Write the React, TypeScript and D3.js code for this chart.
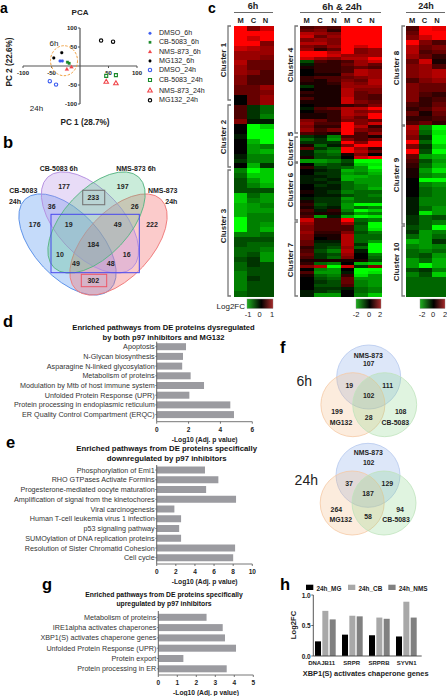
import React from "react";
import * as d3 from "d3";

const FONT = "'Liberation Sans', Arial, sans-serif";

// ---------- a: PCA
const pcaSeries = ["DMSO_6h", "CB-5083_6h", "NMS-873_6h", "MG132_6h", "DMSO_24h", "CB-5083_24h", "NMS-873_24h", "MG132_24h"];
const pcaColors = ["#3b5cf0", "#1a8a2a", "#f0454a", "#000000", "#3b5cf0", "#1a8a2a", "#f0454a", "#000000"];
const pcaShapes = ["circle", "square", "triangle", "circle", "circle", "square", "triangle", "circle"];
const pcaOpen = [false, false, false, false, true, true, true, true];
const pcaX = [[-35, -31], [-22, -19], [-23, -15], [-46, -32], [-53, -42], [46, 63], [46, 63], [37, 58]];
const pcaY = [[13, 13], [10, 7], [-9, -3], [21, 35], [-40, -49], [-26, -24], [-42, -46], [67, 64]];
const pcaTicks = [-100, -50, 50, 100];

// ---------- b: four-set venn
const vennLabels = ["177", "197", "233", "36", "26", "176", "19", "49", "222", "184", "10", "16", "49", "48", "302"];

// ---------- c: heatmaps (tenths of full colour range)
const heat6h = [
  [10, 5, 8], [10, 10, 10], [10, 8, 10], [10, 10, 5], [8, 7, 6], [6, 6, 6], [6, 6, 5], [7, 4, 4],
  [6, 4, 4], [6, 5, 3], [5, 3, 3], [5, 3, 3], [4, 4, 6], [4, 4, 5], [0, 4, 6], [0, 4, 6],
  [3, -2, -4], [3, -2, -4], [3, -2, -5], [5, -1, -1], [0, -10, -8], [0, -10, -10], [-1, -10, -10], [0, -7, -10],
  [0, -6, -5], [0, -6, -7], [-1, -5, -5], [-2, -5, -5], [0, -7, -2],
  [-5, -10, -8], [-4, -8, -8], [-3, -6, -8], [-3, -5, -7], [-3, -3, -3], [-8, -4, -6], [-8, -5, -6], [-7, -6, -5],
  [-7, -6, -6], [-7, -5, -5], [-10, -5, -5], [-10, -5, -6], [-10, -5, -7], [-5, -5, -4], [-3, -3, -3], [-3, -4, -4],
  [-4, -4, -5], [-4, -3, -6], [-3, -2, -6], [-4, -2, -3], [-4, -3, -3], [-5, -3, -3], [-5, -2, -3], [-5, -3, -3],
  [-5, -3, -3], [-4, -3, -3],
];
const heat6h24h = [
  [3, 4, 3, 10, 10, 10], [4, 5, 2, 10, 10, 10], [7, 6, 5, 10, 10, 10], [8, 4, 6, 10, 10, 10], [5, 6, 5, 10, 10, 10],
  [7, 7, 5, 10, 10, 10], [5, 4, 6, 10, 8, 10], [6, 2, 4, 10, 5, 6], [10, 10, 7, 10, 5, 6], [10, 10, 8, 6, 6, 6],
  [8, 6, 5, 7, 7, 10], [-3, 3, 2, 3, 6, 8], [-1, 2, 2, 4, 6, 4], [1, 2, 2, 3, 4, 3], [0, 2, 2, 3, 7, 6],
  [0, 1, 1, 5, 7, 6], [2, 3, 3, 4, 5, 6], [2, 1, 3, 5, 4, 7], [1, 1, 2, 6, 5, 7], [-2, 1, 1, 6, 6, 6],
  [0, 1, 1, 7, 5, 5], [2, 1, 1, 7, 4, 5], [1, 1, 1, 7, 4, 3], [3, 1, 1, 8, 4, 3], [1, 1, 1, 8, 5, 4],
  [0, 1, 1, 2, 3, 5], [-1, 3, 4, 7, 7, 10], [0, 2, 2, 7, 5, 6], [1, 1, 2, 7, 6, 10], [1, 1, 2, 6, 4, 10],
  [5, 4, 2, 5, 5, 4], [6, 3, 3, 10, 5, 8], [5, 2, 2, 10, 7, 2], [6, 3, 5, 10, 5, 4], [3, 2, 1, 10, 3, 6],
  [-2, -1, -5, 3, 3, 1], [-4, -2, -6, 5, 3, 5], [-2, -2, -2, 10, 5, 10], [1, -4, -1, 5, 10, 10], [4, -2, -4, 10, 6, 2],
  [-1, -4, -5, 10, 7, 4], [-1, -3, -4, 1, 5, 0], [1, -3, -3, 0, 8, 10],
  [-6, -6, -5, -3, -10, -10], [0, -4, -3, -2, -8, -9], [2, -2, -3, -4, -6, -10], [0, -1, -2, -7, -6, -8], [0, -2, -2, -6, -5, -7],
  [-1, -1, -2, -7, -7, -6], [-1, -2, -1, -7, -6, -6], [-1, -1, -2, -4, -6, -6], [0, -2, -1, -4, -5, -6], [0, -1, -1, -4, -5, -7],
  [1, -1, -2, -5, -4, -4], [0, -1, -1, -3, -4, -5], [-1, -2, -2, -6, -4, -4], [1, -2, -2, -5, -4, -4], [2, -3, -2, -6, -10, -10],
  [1, -2, -1, -6, -4, -5], [3, -1, 2, -5, -10, -8], [2, 1, 1, -3, -6, -5], [3, -6, -1, -7, -10, -9],
  [8, 3, 3, 10, -4, -5], [6, 3, 3, 6, -3, -10], [5, 3, 3, 3, -4, -10], [5, 3, 3, 3, -4, -9], [6, 2, 2, 5, -3, -5],
  [5, 1, 1, 7, -4, -4], [5, 0, 1, 7, -4, -4], [4, -1, -1, 7, -4, -6], [4, -2, -2, 7, -2, -10], [2, -2, -3, 6, -4, -10],
  [3, -3, -5, 7, -1, -10], [4, -2, -3, 6, 0, -5], [3, -2, -4, 5, 0, -4], [1, 1, 1, 1, 1, -3], [2, -4, -5, 0, -7, -8],
  [5, 7, -10, 8, -2, 5], [0, -5, -6, 0, -10, -10], [3, -6, -6, -1, -10, -9], [1, -4, -5, 2, -9, -6], [0, -3, -4, 4, -6, -6],
  [0, -2, -3, 4, -5, -6], [0, -3, -3, 3, -5, -6], [0, -2, -2, -1, -4, -5], [-1, -2, -3, 0, -4, -5], [-1, -6, -6, 0, -5, -8],
];
const heat24h = [
  [3, 10, 9], [4, 10, 10], [5, 8, 10], [10, 5, 3], [7, 4, 5], [7, 3, 4], [6, 4, 2], [4, 8, 1],
  [5, 6, 3], [5, 6, 7], [5, 6, 7], [3, 5, 6], [5, 4, 4], [5, 4, 4], [5, 3, 2], [5, 2, 3],
  [3, 2, 4], [2, 3, 5], [4, 1, 4], [2, 2, 3], [3, 4, 2],
  [7, -5, -10], [6, -4, -9], [5, -2, -10], [10, -4, -10], [5, -2, -8], [10, -3, -10], [4, -6, -7], [3, -3, -6],
  [2, -4, -7], [1, -6, -9], [1, -5, -6], [0, -10, -10], [0, -5, -6], [0, -4, -5], [0, -4, -5], [-1, -5, -5],
  [-1, -5, -5], [-1, -4, -6], [-1, -9, -6],
  [-2, -4, -3], [-2, -4, -5], [-3, -4, -10], [-2, -6, -5], [-4, -6, -4], [-7, -6, -2], [-5, -6, -5], [-4, -5, -4],
  [-4, -3, -6], [-6, -4, -7], [-6, -10, -7], [-3, -2, -5], [-5, -3, -8], [-4, -4, -4], [-4, -4, -4], [-4, -4, -4],
  [-4, -4, -4],
];
const heatCols3 = ["M", "C", "N"];
const heatCols6 = ["M1", "C1", "N1", "M2", "C2", "N2"];

// ---------- d, e, g: pathway bars
const dPathways = ["Apoptosis", "N-Glycan biosynthesis", "Asparagine N-linked glycosylation", "Metabolism of proteins", "Modulation by Mtb of host immune system", "Unfolded Protein Response (UPR)", "Protein processing in endoplasmic reticulum", "ER Quality Control Compartment (ERQC)"];
const dValues = [1.84, 1.65, 1.6, 2.13, 2.97, 2.05, 4.62, 4.85];
const dTicks = [0, 2, 4, 6];
const ePathways = ["Phosphorylation of Emi1", "RHO GTPases Activate Formins", "Progesterone-mediated oocyte maturation", "Amplification of signal from the kinetochores", "Viral carcinogenesis", "Human T-cell leukemia virus 1 infection", "p53 signaling pathway", "SUMOylation of DNA replication proteins", "Resolution of Sister Chromatid Cohesion", "Cell cycle"];
const eValues = [5.05, 6.45, 5.17, 8.3, 1.85, 2.55, 2.35, 2.55, 8.2, 8.0];
const eTicks = [0, 2, 4, 6, 8, 10];
const gPathways = ["Metabolism of proteins", "IRE1alpha activates chaperones", "XBP1(S) activates chaperone genes", "Unfolded Protein Response (UPR)", "Protein export", "Protein processing in ER"];
const gValues = [2.54, 3.39, 3.51, 4.09, 1.32, 3.6];
const gTicks = [0, 1, 2, 3, 4, 5];

// ---------- h
const hGenes = ["DNAJB11", "SRPR", "SRPRB", "SYVN1"];
const hSeries = ["24h_MG", "24h_CB", "24h_NMS"];
const hColors = ["#000000", "#a8a8a8", "#808080"];
const hMG = [0.24, 0.35, 0.34, 0.32];
const hCB = [0.74, 0.66, 0.63, 0.89];
const hNMS = [0.6, 0.65, 0.61, 0.63];
const hTicks = [0, 0.5, 1];

const heatColor = d3.scaleLinear<string>().domain([-10, 0, 10]).range(["#00ff00", "#000000", "#ff0000"]).clamp(true);

function T(p: any) {
  const { x, y, s = 7, b = false, a = "middle", c = "#222", r, children } = p;
  return (
    <text x={x} y={y} fontSize={s} fontWeight={b ? "bold" : "normal"} textAnchor={a} fill={c} fontFamily={FONT}
      dominantBaseline="central" transform={r ? `rotate(${r} ${x} ${y})` : undefined}>{children}</text>
  );
}

function Letter({ x, y, t, s = 16.5 }: any) {
  return <text x={x} y={y} fontSize={s} fontWeight="bold" fontFamily={FONT} fill="#000">{t}</text>;
}

function Marker({ cx, cy, shape, color, open, size }: any) {
  const sym = shape === "circle" ? d3.symbolCircle : shape === "square" ? d3.symbolSquare : d3.symbolTriangle;
  const path = d3.symbol().type(sym).size(size)()!;
  return <path d={path} transform={`translate(${cx},${cy})`} fill={open ? "none" : color} stroke={color} strokeWidth={open ? 1.1 : 0.2} />;
}

function PCA() {
  const x = d3.scaleLinear().domain([-100, 100]).range([23, 137]);
  const y = d3.scaleLinear().domain([-100, 100]).range([104, 28]);
  const legY = [33.3, 42.3, 52, 61, 70, 80, 90.7, 100.3];
  return (
    <g>
      <T x={80} y={12} s={8} b>PCA</T>
      <line x1={x(-100)} x2={x(100)} y1={y(0)} y2={y(0)} stroke="#555" strokeWidth={1.2} />
      <line x1={x(0)} x2={x(0)} y1={y(100)} y2={y(-100)} stroke="#555" strokeWidth={1.2} />
      {pcaTicks.map((t) => (
        <g key={t}>
          <line x1={x(t)} x2={x(t)} y1={y(0)} y2={y(0) + 2} stroke="#555" />
          <T x={x(t)} y={y(0) + 6.5} s={6} b>{t}</T>
          <line x1={x(0) - 2} x2={x(0)} y1={y(t)} y2={y(t)} stroke="#555" />
          <T x={x(0) - 3} y={y(t)} s={6} b a="end">{t}</T>
        </g>
      ))}
      <ellipse cx={64} cy={60.7} rx={13.5} ry={15} fill="none" stroke="#f0a040" strokeWidth={1} strokeDasharray="2.5 1.5" />
      {pcaSeries.map((s, i) => (
        <g key={s}>
          {pcaX[i].map((vx, j) => (
            <Marker key={j} cx={x(vx)} cy={y(pcaY[i][j])} shape={pcaShapes[i]} color={pcaColors[i]} open={pcaOpen[i]} size={pcaOpen[i] ? 9 : 7} />
          ))}
          <Marker cx={150} cy={legY[i]} shape={pcaShapes[i]} color={pcaColors[i]} open={pcaOpen[i]} size={pcaOpen[i] ? 9 : 6} />
          <T x={159} y={legY[i]} s={7.1} a="start">{s}</T>
        </g>
      ))}
      <T x={54} y={43} s={8}>6h</T>
      <T x={36.5} y={108} s={8}>24h</T>
      <T x={9} y={62} s={8.2} b r={-90}>PC 2 (22.6%)</T>
      <T x={85} y={122} s={8.2} b>PC 1 (28.7%)</T>
    </g>
  );
}

function Venn4() {
  const ells = [
    { cx: 67.5, cy: 244.5, ang: 47, fill: "rgba(95,155,240,0.36)", st: "#5a90e8" },
    { cx: 118.5, cy: 244.5, ang: -47, fill: "rgba(245,110,110,0.36)", st: "#ef7a7a" },
    { cx: 90, cy: 222.5, ang: 47, fill: "rgba(185,145,230,0.32)", st: "#b48fe0" },
    { cx: 96.5, cy: 222.5, ang: -47, fill: "rgba(90,195,140,0.32)", st: "#5ab585" },
  ];
  const pos = [[64, 186.7], [122.7, 186.7], [93.3, 197.3], [51.7, 206], [134.7, 206], [34.7, 224.3], [68.7, 224.3], [117.7, 224.3], [152, 224.3], [93.3, 244.7], [60, 254.7], [126.7, 254.7], [76, 263.7], [110.7, 263.7], [93.3, 280.3]];
  return (
    <g>
      {ells.map((e, i) => (
        <ellipse key={i} cx={e.cx} cy={e.cy} rx={62} ry={33} transform={`rotate(${e.ang} ${e.cx} ${e.cy})`} fill={e.fill} stroke={e.st} strokeWidth={0.9} />
      ))}
      <rect x={82.7} y={190.3} width={22} height={14.4} fill="none" stroke="#777" strokeWidth={1.1} />
      <rect x={51} y={214.3} width={88.3} height={58.4} fill="none" stroke="#4646ee" strokeWidth={1} />
      <rect x={81.3} y={274.3} width={25.4} height={12.4} fill="none" stroke="#ee5566" strokeWidth={1} />
      {vennLabels.map((t, i) => <T key={i} x={pos[i][0]} y={pos[i][1]} s={7} b>{t}</T>)}
      <T x={58.7} y={168.7} s={7} b>CB-5083 6h</T>
      <T x={136} y={168.7} s={7} b>NMS-873 6h</T>
      <T x={23.3} y={190.7} s={7} b>CB-5083</T>
      <T x={15} y={201.3} s={7} b>24h</T>
      <T x={162.7} y={190.7} s={7} b>NMS-873</T>
      <T x={171.3} y={201.3} s={7} b>24h</T>
    </g>
  );
}

function Heat({ rows, cols, x0, x1 }: any) {
  const x = d3.scaleBand<string>().domain(cols).range([x0, x1]);
  const y = d3.scaleBand<number>().domain(d3.range(rows.length)).range([26, 296]);
  return (
    <g shapeRendering="crispEdges">
      {rows.map((r: number[], i: number) => r.map((v, j) => (
        <rect key={`${i}-${j}`} x={x(cols[j])} y={y(i)} width={x.bandwidth() + 0.5} height={y.bandwidth() + 0.5} fill={heatColor(v)} />
      )))}
    </g>
  );
}

function Bracket({ x, y0, y1 }: any) {
  return <path d={`M${x + 3},${y0} H${x} V${y1} H${x + 3}`} fill="none" stroke="#777" strokeWidth={1.3} />;
}

function Heatmaps() {
  const brackets = [
    [228, 26, 100, 223, 60, "Cluster 1"], [228, 105, 167, 223, 137, "Cluster 2"], [228, 170, 296, 223, 226, "Cluster 3"],
    [295, 26, 133, 290, 65, "Cluster 4"], [295, 137, 162, 290, 149, "Cluster 5"], [295, 163, 220, 290, 190, "Cluster 6"], [295, 222, 296, 290, 260, "Cluster 7"],
    [402, 26, 125, 396, 68, "Cluster 8"], [402, 126, 224, 396, 175, "Cluster 9"], [402, 226, 296, 396, 262, "Cluster 10"],
  ] as any[];
  const colLabels: [number, string][] = [
    [240.5, "M"], [253.5, "C"], [265.5, "N"],
    [306.5, "M"], [320, "C"], [334, "N"], [347, "M"], [359.5, "C"], [372, "N"],
    [412, "M"], [424.5, "C"], [437, "N"],
  ];
  const legends: [number, number, string[], number[]][] = [
    [247, 273, ["-1", "0", "1"], [248, 259.5, 272]],
    [356, 381, ["-2", "0", "2"], [356, 369, 380]],
    [420, 445, ["-2", "0", "2"], [422, 433, 445]],
  ];
  return (
    <g>
      <defs>
        <linearGradient id="gb">
          <stop offset="0" stopColor="#1eb01e" /><stop offset="0.55" stopColor="#000" /><stop offset="1" stopColor="#a82a2a" />
        </linearGradient>
      </defs>
      <Heat rows={heat6h} cols={heatCols3} x0={234} x1={273} />
      <Heat rows={heat6h24h} cols={heatCols6} x0={300} x1={381} />
      <Heat rows={heat24h} cols={heatCols3} x0={406} x1={445} />
      {brackets.map((b) => (
        <g key={b[5]}>
          <Bracket x={b[0]} y0={b[1]} y1={b[2]} />
          <T x={b[3]} y={b[4]} s={8} b r={-90}>{b[5]}</T>
        </g>
      ))}
      <T x={253} y={6} s={9} b>6h</T>
      <T x={342} y={6} s={9.5} b>6h &amp; 24h</T>
      <T x={426} y={6} s={9} b>24h</T>
      {[[234, 273], [300, 339], [341, 381], [406, 445]].map((l, i) => (
        <line key={i} x1={l[0]} x2={l[1]} y1={12.5} y2={12.5} stroke="#444" strokeWidth={0.8} />
      ))}
      {colLabels.map((c, i) => <T key={i} x={c[0]} y={20} s={7.5} b>{c[1]}</T>)}
      <T x={245} y={306} s={8} a="end">Log2FC</T>
      {legends.map((l, i) => (
        <g key={i}>
          <rect x={l[0]} y={299} width={l[1] - l[0]} height={9.5} fill="url(#gb)" stroke="#888" strokeWidth={0.4} />
          {l[2].map((t, j) => <T key={j} x={l[3][j]} y={314.5} s={7.5}>{t}</T>)}
        </g>
      ))}
    </g>
  );
}

function Bars({ names, values, ticks, x0, x1, rowsY, top, bottom, titleLines, titleX, titleY, titleS, axisTitleX, axisTitleY, tickY }: any) {
  const x = d3.scaleLinear().domain([ticks[0], ticks[ticks.length - 1]]).range([x0, x1]);
  const step = rowsY[1] - rowsY[0];
  const y = d3.scaleBand<string>().domain(names).range([rowsY[0] - step / 2, rowsY[0] - step / 2 + step * names.length]);
  return (
    <g>
      {titleLines.map((t: string, i: number) => <T key={i} x={titleX} y={titleY[i]} s={titleS} b c="#111">{t}</T>)}
      {names.map((n: string, i: number) => (
        <g key={n}>
          <rect x={x0} y={y(n)! + y.bandwidth() / 2 - 3.5} width={x(values[i]) - x0} height={7} fill="#9b9ba0" />
          <line x1={x0 - 1.5} x2={x0} y1={y(n)! + y.bandwidth() / 2} y2={y(n)! + y.bandwidth() / 2} stroke="#444" strokeWidth={0.6} />
          <T x={x0 - 2} y={y(n)! + y.bandwidth() / 2} s={7.2} a="end" c="#333">{n}</T>
        </g>
      ))}
      <line x1={x0} x2={x0} y1={top} y2={bottom} stroke="#555" strokeWidth={0.9} />
      <line x1={x0} x2={x1} y1={bottom} y2={bottom} stroke="#777" strokeWidth={1} />
      {ticks.map((t: number) => (
        <g key={t}>
          <line x1={x(t)} x2={x(t)} y1={bottom} y2={bottom + 2} stroke="#555" strokeWidth={0.8} />
          <T x={x(t)} y={tickY} s={6.5} b>{t}</T>
        </g>
      ))}
      <T x={axisTitleX} y={axisTitleY} s={6.7} b>-Log10 (Adj. p value)</T>
    </g>
  );
}

function Venn3({ cx, cyTop, cyBot, texts }: any) {
  const circles = [
    { x: cx, y: cyTop, f: "rgba(120,160,230,0.25)", s: "#b5c8ee" },
    { x: cx - 15.8, y: cyBot, f: "rgba(245,180,120,0.25)", s: "#f5c9a5" },
    { x: cx + 16, y: cyBot, f: "rgba(130,210,130,0.25)", s: "#bfe3bd" },
  ];
  return (
    <g>
      {circles.map((c, i) => <circle key={i} cx={c.x} cy={c.y} r={32} fill={c.f} stroke={c.s} strokeWidth={0.8} />)}
      {texts.map((t: any, i: number) => <T key={i} x={t[0]} y={t[1]} s={6.9} b>{t[2]}</T>)}
    </g>
  );
}

function PanelH() {
  const x = d3.scaleBand<string>().domain(hGenes).range([315, 315 + 27 * 4]);
  const inner = d3.scaleBand<string>().domain(hSeries).range([0, 20.7]).paddingInner(0.18);
  const y = d3.scaleLinear().domain([0, 1]).range([656, 595]);
  const vals = [hMG, hCB, hNMS];
  const labX = [321.7, 351.7, 379, 406.7];
  const legX = [306, 348, 388.3];
  return (
    <g>
      {hSeries.map((s, i) => (
        <g key={s}>
          <rect x={legX[i]} y={584.7} width={7.3} height={5.3} fill={hColors[i]} />
          <T x={legX[i] + 10.5} y={588} s={6.4} b a="start">{s}</T>
          {hGenes.map((g, j) => (
            <rect key={g} x={x(g)! + inner(s)!} y={y(vals[i][j])} width={inner.bandwidth()} height={y(0) - y(vals[i][j])} fill={hColors[i]} />
          ))}
        </g>
      ))}
      <line x1={313.3} x2={313.3} y1={y(1)} y2={y(0)} stroke="#444" strokeWidth={0.9} />
      <line x1={313.3} x2={421.7} y1={y(0)} y2={y(0)} stroke="#444" strokeWidth={0.9} />
      {hTicks.map((t) => (
        <g key={t}>
          <line x1={311.3} x2={313.3} y1={y(t)} y2={y(t)} stroke="#444" strokeWidth={0.8} />
          <T x={310.7} y={y(t)} s={6.5} b a="end">{t.toFixed(1)}</T>
        </g>
      ))}
      {hGenes.map((g, i) => <T key={g} x={labX[i]} y={662.5} s={6} b>{g}</T>)}
      <T x={293.3} y={625} s={7.6} b r={-90}>Log2FC</T>
      <T x={365.7} y={673.7} s={7.4} b>XBP1(S) activates chaperone genes</T>
    </g>
  );
}

export default function App() {
  return (
    <svg width={447} height={696} viewBox="0 0 447 696" style={{ position: "absolute", left: 0, top: 0, background: "#fff" }}>
      <Letter x={0} y={13} s={14} t="a" />
      <Letter x={3} y={148} t="b" />
      <Letter x={208} y={13} s={14} t="c" />
      <Letter x={3} y={327} t="d" />
      <Letter x={6} y={448} t="e" />
      <Letter x={280} y={353} t="f" />
      <Letter x={42} y={590} t="g" />
      <Letter x={280} y={590} t="h" />
      <PCA />
      <Venn4 />
      <Heatmaps />
      <Bars names={dPathways} values={dValues} ticks={dTicks} x0={156.7} x1={252.3}
        rowsY={[346.7, 356.4]} top={341.7} bottom={421.7}
        titleLines={["Enriched pathways from DE proteins dysregulated", "by both p97 inhibitors and MG132"]}
        titleX={163.5} titleY={[327, 337]} titleS={7.6} axisTitleX={204.7} axisTitleY={439} tickY={429} />
      <Bars names={ePathways} values={eValues} ticks={eTicks} x0={156.7} x1={252.3}
        rowsY={[470, 479.75]} top={465} bottom={564}
        titleLines={["Enriched pathways from DE proteins specifically", "downregulated by p97 inhibitors"]}
        titleX={166.7} titleY={[448.7, 458.3]} titleS={7.8} axisTitleX={204.7} axisTitleY={581} tickY={571} />
      <Bars names={gPathways} values={gValues} ticks={gTicks} x0={158.3} x1={253.3}
        rowsY={[617.3, 627.6]} top={611} bottom={675}
        titleLines={["Enriched pathways from DE proteins specifically", "upregulated by p97 inhibitors"]}
        titleX={164} titleY={[594.7, 603]} titleS={6.8} axisTitleX={206} axisTitleY={692} tickY={682} />
      <T x={304.3} y={381} s={14}>6h</T>
      <T x={306.3} y={480} s={14}>24h</T>
      <Venn3 cx={368.7} cyTop={377} cyBot={404.7} texts={[
        [368.3, 355, "NMS-873"], [368.7, 363.7, "107"], [349.3, 385, "19"], [387.7, 385, "111"], [368.7, 395.3, "102"],
        [337, 411, "199"], [400.7, 411, "108"], [341, 422, "MG132"], [368.7, 417.7, "28"], [395.3, 422, "CB-5083"],
      ]} />
      <Venn3 cx={368} cyTop={475.3} cyBot={503} texts={[
        [368.3, 452.7, "NMS-873"], [368.7, 462, "102"], [349, 483.3, "37"], [387.3, 483.3, "129"], [368, 493.7, "187"],
        [336.3, 509.7, "264"], [400, 509.7, "94"], [368, 516.3, "58"], [340.7, 519.7, "MG132"], [396, 519.7, "CB-5083"],
      ]} />
      <PanelH />
    </svg>
  );
}
